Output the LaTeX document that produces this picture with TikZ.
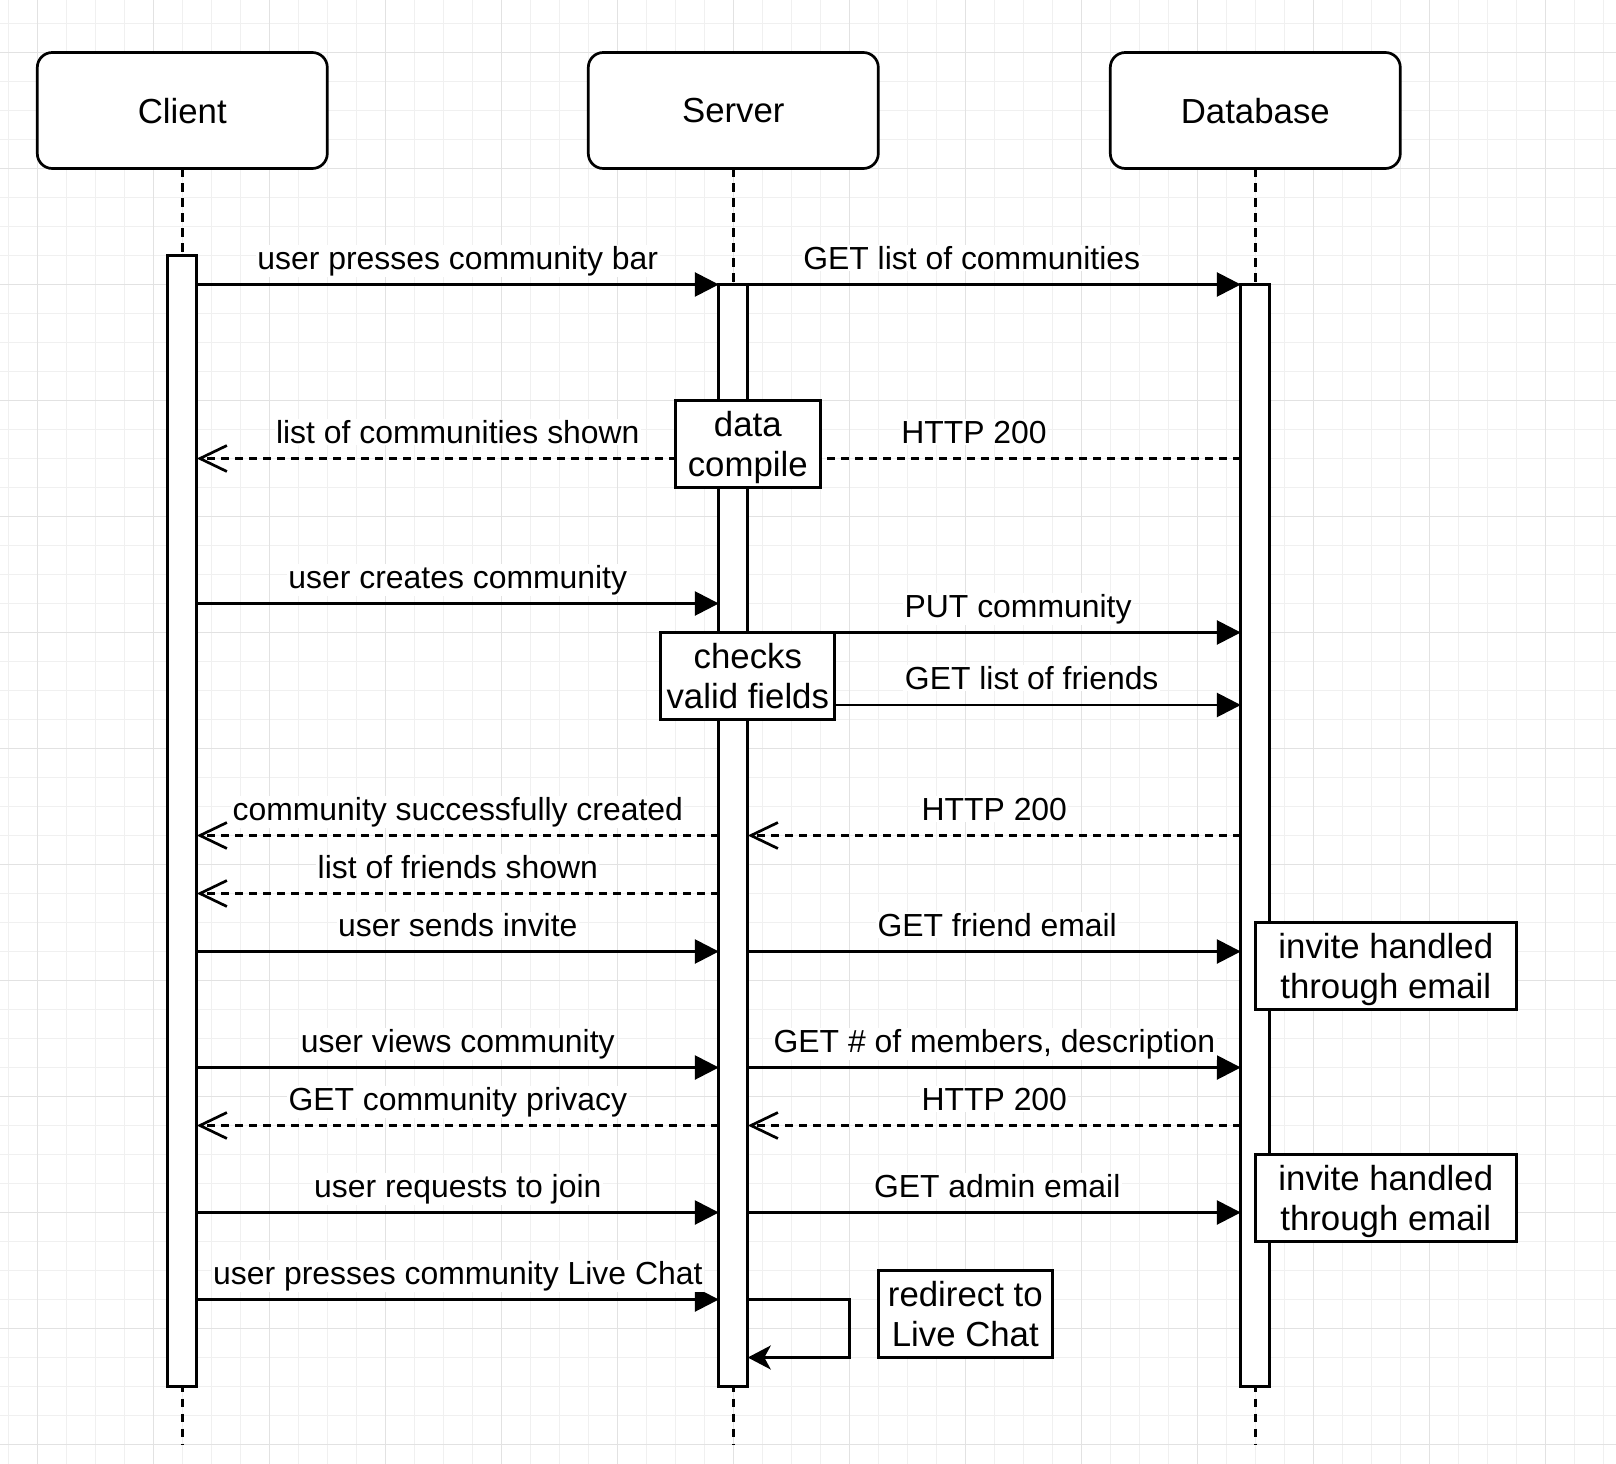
\documentclass[tikz,border=0pt]{standalone}
\usepackage{fontspec}
\setmainfont{Liberation Sans}
\usetikzlibrary{arrows.meta}

\definecolor{gridminor}{RGB}{240,240,240}
\definecolor{gridmajor}{RGB}{226,226,226}
\newcommand\boxfont{\fontsize{34.8}{40}\selectfont}
\newcommand\msgfont{\fontsize{31.9}{38}\selectfont}

\tikzset{
  stroke/.style={line width=2.7pt},
  actor/.style={stroke, draw, fill=white, rounded corners=15pt,
    minimum width=290pt, minimum height=116pt, font=\boxfont,
    text depth=0pt, outer sep=0pt},
  lifeline/.style={stroke, dash pattern=on 8.5pt off 6.5pt},
  activation/.style={stroke, draw, fill=white, minimum width=29pt,
    inner sep=0pt, outer sep=0pt},
  msg/.style={stroke, -{Triangle[length=24pt,width=24pt]}},
  reply/.style={stroke, dash pattern=on 8pt off 6pt,
    -{Straight Barb[length=27pt,width=26pt]}},
  selfcall/.style={stroke, -{Stealth[length=23pt,width=24pt,inset=6.5pt]}},
  msglabel/.style={fill=white, inner sep=1.5pt, font=\msgfont, anchor=base},
  notebox/.style={stroke, draw, fill=white, align=center, font=\boxfont,
    text depth=0pt, inner sep=0pt, minimum height=87pt},
}

\begin{document}
\begin{tikzpicture}[x=2.9pt, y=-2.9pt]
  % canvas
  \path[use as bounding box, fill=white] (-12.862,-8.103) rectangle (544.38,496.72);

  % background grid
  \foreach \u in {-10,0,...,540}
    \draw[gridminor, line width=1.2pt] (\u,-8.103) -- (\u,496.72);
  \foreach \v in {0,10,...,490}
    \draw[gridminor, line width=1.2pt] (-12.862,\v) -- (544.38,\v);
  \foreach \u in {0,40,...,520}
    \draw[gridmajor, line width=1.4pt] (\u,-8.103) -- (\u,496.72);
  \foreach \v in {10,50,...,490}
    \draw[gridmajor, line width=1.4pt] (-12.862,\v) -- (544.38,\v);

  % participants
  \node[actor] (client) at (50,30) {Client};
  \node[actor] (server) at (240,30) {Server};
  \node[actor] (db) at (420,30) {Database};

  % lifelines
  \coordinate (clientEnd) at (50,490);
  \coordinate (serverEnd) at (240,490);
  \coordinate (dbEnd) at (420,490);
  \draw[lifeline] (client.south) -- (clientEnd);
  \draw[lifeline] (server.south) -- (serverEnd);
  \draw[lifeline] (db.south) -- (dbEnd);

  % activation bars
  \node[activation, minimum height=1131pt] (cbar) at (50,275) {};
  \node[activation, minimum height=1102pt] (sbar) at (240,280) {};
  \node[activation, minimum height=1102pt] (dbar) at (420,280) {};

  % messages
  \draw[msg] (cbar.east |- 0,90) -- (sbar.west |- 0,90);
  \draw[msg] (sbar.east |- 0,90) -- (dbar.west |- 0,90);
  \draw[reply] (dbar.west |- 0,150) -- (sbar.east |- 0,150);
  \draw[reply] (sbar.west |- 0,150) -- (cbar.east |- 0,150);
  \draw[msg] (cbar.east |- 0,200) -- (sbar.west |- 0,200);
  \draw[msg] (sbar.east |- 0,210) -- (dbar.west |- 0,210);
  \draw[msg] (sbar.east |- 0,235) -- (dbar.west |- 0,235);
  \draw[reply] (dbar.west |- 0,280) -- (sbar.east |- 0,280);
  \draw[reply] (sbar.west |- 0,280) -- (cbar.east |- 0,280);
  \draw[reply] (sbar.west |- 0,300) -- (cbar.east |- 0,300);
  \draw[msg] (cbar.east |- 0,320) -- (sbar.west |- 0,320);
  \draw[msg] (sbar.east |- 0,320) -- (dbar.west |- 0,320);
  \draw[msg] (cbar.east |- 0,360) -- (sbar.west |- 0,360);
  \draw[msg] (sbar.east |- 0,360) -- (dbar.west |- 0,360);
  \draw[reply] (sbar.west |- 0,380) -- (cbar.east |- 0,380);
  \draw[reply] (dbar.west |- 0,380) -- (sbar.east |- 0,380);
  \draw[msg] (cbar.east |- 0,410) -- (sbar.west |- 0,410);
  \draw[msg] (sbar.east |- 0,410) -- (dbar.west |- 0,410);
  \draw[msg] (cbar.east |- 0,440) -- (sbar.west |- 0,440);

  % self call on the server
  \coordinate (loopTop) at (280,440);
  \coordinate (loopBottom) at (280,460);
  \draw[selfcall] (sbar.east |- loopTop) -- (loopTop) -- (loopBottom) -- (sbar.east |- loopBottom);

  % notes
  \node[notebox, minimum width=145pt] (compile) at (245,145) {data\\compile};
  \node[notebox, minimum width=174pt] (checks) at (245,225) {checks\\valid fields};
  \node[notebox, minimum width=261pt] (invite1) at (465,325) {invite handled\\through email};
  \node[notebox, minimum width=261pt] (invite2) at (465,405) {invite handled\\through email};
  \node[notebox, minimum width=174pt] (redirect) at (320,445) {redirect to\\Live Chat};

  % message labels
  \node[msglabel] (l1) at (145,84.7) {user presses community bar};
  \node[msglabel] (l2) at (322.2,84.7) {GET list of communities};
  \node[msglabel] (l3) at (145,144.7) {list of communities shown};
  \node[msglabel] (l4) at (323,144.7) {HTTP 200};
  \node[msglabel] (l5) at (145,194.7) {user creates community};
  \node[msglabel] (l6) at (338.2,204.7) {PUT community};
  \node[msglabel] (l7) at (342.9,229.7) {GET list of friends};
  \node[msglabel] (l8) at (145,274.7) {community successfully created};
  \node[msglabel] (l9) at (330,274.7) {HTTP 200};
  \node[msglabel] (l10) at (145,294.7) {list of friends shown};
  \node[msglabel] (l11) at (145,314.7) {user sends invite};
  \node[msglabel] (l12) at (331,314.7) {GET friend email};
  \node[msglabel] (l13) at (145,354.7) {user views community};
  \node[msglabel] (l14) at (330,354.7) {GET \# of members, description};
  \node[msglabel] (l15) at (145,374.7) {GET community privacy};
  \node[msglabel] (l16) at (330,374.7) {HTTP 200};
  \node[msglabel] (l17) at (145,404.7) {user requests to join};
  \node[msglabel] (l18) at (331,404.7) {GET admin email};
  \node[msglabel] (l19) at (145,434.7) {user presses community Live Chat};
\end{tikzpicture}
\end{document}
